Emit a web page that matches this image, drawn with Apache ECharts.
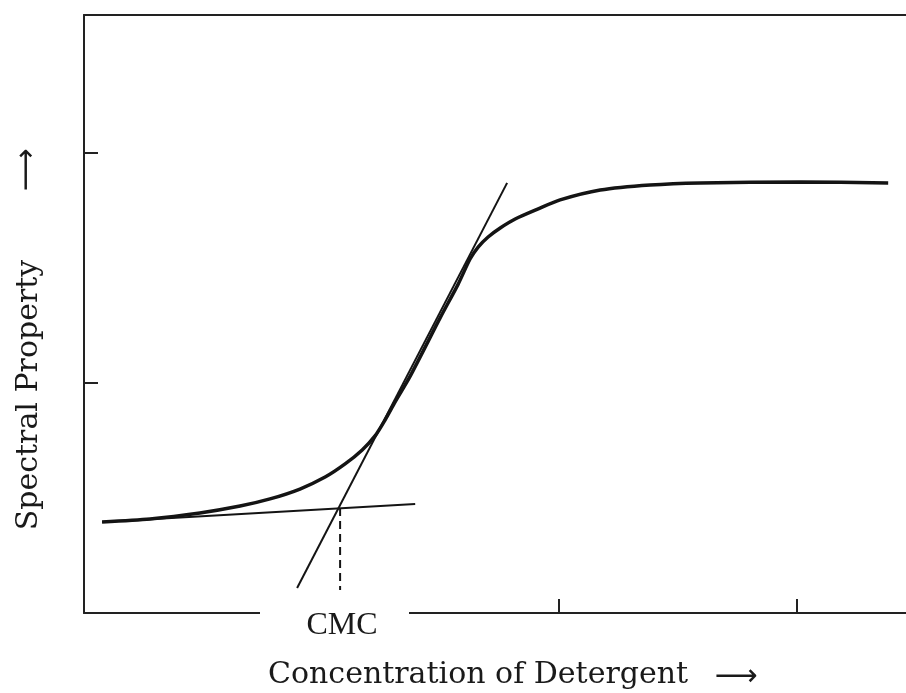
<!DOCTYPE html>
<html>
<head>
<meta charset="utf-8">
<script src="https://cdn.jsdelivr.net/npm/echarts@6/dist/echarts.min.js"></script>
<style>
  html, body { margin: 0; padding: 0; background: #fff; }
  #chart { width: 906px; height: 693px; }
</style>
</head>
<body>
<div id="chart"></div>
<script>
// curve (x = concentration, y = spectral property, arbitrary units)
var curveX = [0.076, 0.278, 0.488, 0.657, 0.783, 0.909, 1.015, 1.099, 1.171, 1.225, 1.267, 1.309, 1.373, 1.499, 1.575, 1.625, 1.659, 1.701, 1.752, 1.815, 1.912, 2.004, 2.173, 2.383, 2.594, 3.015, 3.385]
var curveY = [0.396, 0.409, 0.435, 0.465, 0.496, 0.539, 0.591, 0.648, 0.709, 0.77, 0.839, 0.917, 1.03, 1.283, 1.43, 1.539, 1.591, 1.635, 1.674, 1.713, 1.757, 1.796, 1.839, 1.861, 1.87, 1.874, 1.87]
// tangent lines
var steepX = [0.897, 1.781]
var steepY = [0.109, 1.87]
var flatX = [0.076, 1.394]
var flatY = [0.396, 0.474]
// CMC drop line
var cmcX = [1.078, 1.078]
var cmcY = [0.457, 0.1]
var xTicks = [1, 2, 3]
var yTicks = [1, 2]
var xMax = 3.46
var yMax = 2.6

function pairs (xs, ys) {
  let out = []
  for (let i = 0; i < xs.length; i++) {
    out.push([xs[i], ys[i]])
  }
  return out
}

let myChart = echarts.init(document.getElementById('chart'))
let axisLine = { show: true, lineStyle: { color: '#222', width: 2 } }
let tickStyle = { color: '#222', width: 2 }
myChart.setOption({
  animation: false,
  grid: { left: 84, right: 0, top: 15, bottom: 80 },
  xAxis: [
    {
      type: 'value',
      min: 0,
      max: xMax,
      interval: 1,
      axisLine: axisLine,
      axisTick: { show: true, inside: true, length: 14, customValues: xTicks, lineStyle: tickStyle },
      axisLabel: { show: false },
      splitLine: { show: false }
    },
    {
      type: 'value',
      position: 'top',
      min: 0,
      max: xMax,
      axisLine: axisLine,
      axisTick: { show: false },
      axisLabel: { show: false },
      splitLine: { show: false }
    }
  ],
  yAxis: {
    type: 'value',
    min: 0,
    max: yMax,
    interval: 1,
    axisLine: axisLine,
    axisTick: { show: true, inside: true, length: 14, customValues: yTicks, lineStyle: tickStyle },
    axisLabel: { show: false },
    splitLine: { show: false }
  },
  series: [
    {
      type: 'line',
      data: pairs(curveX, curveY),
      smooth: 0.25,
      symbol: 'none',
      lineStyle: { color: '#141414', width: 3.5 }
    },
    {
      type: 'line',
      data: pairs(steepX, steepY),
      symbol: 'none',
      lineStyle: { color: '#141414', width: 2 }
    },
    {
      type: 'line',
      data: pairs(flatX, flatY),
      symbol: 'none',
      lineStyle: { color: '#141414', width: 2 }
    },
    {
      type: 'line',
      data: pairs(cmcX, cmcY),
      symbol: 'none',
      lineStyle: { color: '#141414', width: 2, type: [8, 5] }
    }
  ],
  graphic: [
    // gap in the bottom axis for the CMC label
    {
      type: 'rect',
      z: 100,
      shape: { x: 260, y: 598, width: 149, height: 26 },
      style: { fill: '#fff' }
    },
    {
      type: 'text',
      z: 101,
      x: 342,
      y: 626,
      style: { text: 'CMC', font: '32px "Liberation Serif"', fill: '#1a1a1a', align: 'center', verticalAlign: 'middle' }
    },
    {
      type: 'text',
      x: 268,
      y: 675,
      style: { text: 'Concentration of Detergent', font: '30px "DejaVu Serif"', fill: '#1a1a1a', align: 'left', verticalAlign: 'middle' }
    },
    {
      type: 'text',
      x: 736,
      y: 677,
      style: { text: '⟶', font: '30px "DejaVu Sans"', fill: '#1a1a1a', align: 'center', verticalAlign: 'middle' }
    },
    {
      type: 'text',
      x: 29,
      y: 395,
      rotation: Math.PI / 2,
      style: { text: 'Spectral Property', font: '30px "DejaVu Serif"', fill: '#1a1a1a', align: 'center', verticalAlign: 'middle' }
    },
    {
      type: 'text',
      x: 27,
      y: 170,
      rotation: Math.PI / 2,
      style: { text: '⟶', font: '30px "DejaVu Sans"', fill: '#1a1a1a', align: 'center', verticalAlign: 'middle' }
    }
  ]
})
</script>
</body>
</html>
